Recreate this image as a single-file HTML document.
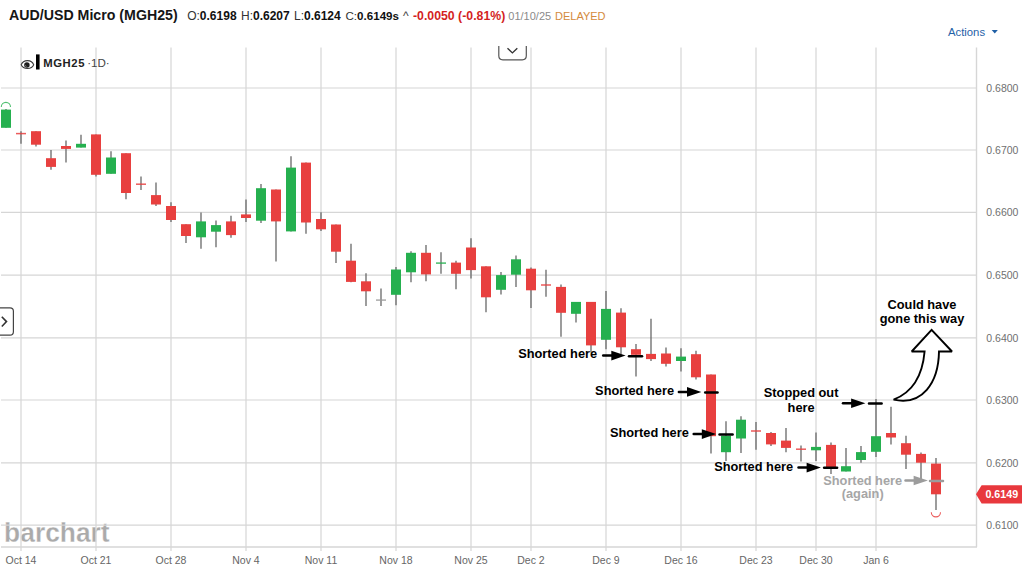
<!DOCTYPE html>
<html><head><meta charset="utf-8"><title>AUD/USD Micro (MGH25)</title>
<style>
html,body{margin:0;padding:0;background:#fff;}
body{width:1024px;height:570px;overflow:hidden;position:relative;}
svg{position:absolute;left:0;top:0;display:block;}
</style></head><body>
<svg width="1024" height="570" viewBox="0 0 1024 570">
<text x="0" y="0" transform="translate(4.1,541.9) scale(0.91,0.96)" font-family="Liberation Sans, sans-serif" font-weight="bold" font-size="29" fill="#aaaaaa" stroke="#fff" stroke-width="0.3">barchart</text>
<line x1="21" y1="47.5" x2="21" y2="551" stroke="#d6d6d6" stroke-width="1.2"/>
<line x1="96" y1="47.5" x2="96" y2="551" stroke="#d6d6d6" stroke-width="1.2"/>
<line x1="171" y1="47.5" x2="171" y2="551" stroke="#d6d6d6" stroke-width="1.2"/>
<line x1="246" y1="47.5" x2="246" y2="551" stroke="#d6d6d6" stroke-width="1.2"/>
<line x1="321" y1="47.5" x2="321" y2="551" stroke="#d6d6d6" stroke-width="1.2"/>
<line x1="396" y1="47.5" x2="396" y2="551" stroke="#d6d6d6" stroke-width="1.2"/>
<line x1="471" y1="47.5" x2="471" y2="551" stroke="#d6d6d6" stroke-width="1.2"/>
<line x1="531" y1="47.5" x2="531" y2="551" stroke="#d6d6d6" stroke-width="1.2"/>
<line x1="606" y1="47.5" x2="606" y2="551" stroke="#d6d6d6" stroke-width="1.2"/>
<line x1="681" y1="47.5" x2="681" y2="551" stroke="#d6d6d6" stroke-width="1.2"/>
<line x1="756" y1="47.5" x2="756" y2="551" stroke="#d6d6d6" stroke-width="1.2"/>
<line x1="816" y1="47.5" x2="816" y2="551" stroke="#d6d6d6" stroke-width="1.2"/>
<line x1="876" y1="47.5" x2="876" y2="551" stroke="#d6d6d6" stroke-width="1.2"/>
<line x1="1" y1="88" x2="976.5" y2="88" stroke="#d6d6d6" stroke-width="1.2"/>
<line x1="1" y1="150" x2="976.5" y2="150" stroke="#d6d6d6" stroke-width="1.2"/>
<line x1="1" y1="212.3" x2="976.5" y2="212.3" stroke="#d6d6d6" stroke-width="1.2"/>
<line x1="1" y1="275.2" x2="976.5" y2="275.2" stroke="#d6d6d6" stroke-width="1.2"/>
<line x1="1" y1="337.8" x2="976.5" y2="337.8" stroke="#d6d6d6" stroke-width="1.2"/>
<line x1="1" y1="400" x2="976.5" y2="400" stroke="#d6d6d6" stroke-width="1.2"/>
<line x1="1" y1="462.8" x2="976.5" y2="462.8" stroke="#d6d6d6" stroke-width="1.2"/>
<line x1="1" y1="525.2" x2="976.5" y2="525.2" stroke="#d6d6d6" stroke-width="1.2"/>
<line x1="976.5" y1="47.5" x2="976.5" y2="547" stroke="#d6d6d6" stroke-width="1.4"/>
<line x1="1" y1="547" x2="977" y2="547" stroke="#d6d6d6" stroke-width="1.4"/>
<line x1="6" y1="109" x2="6" y2="127.8" stroke="#686868" stroke-width="1.3"/>
<rect x="1" y="109.6" width="10" height="18.2" fill="#25b04f"/>
<line x1="21" y1="131.2" x2="21" y2="143.8" stroke="#686868" stroke-width="1.3"/>
<rect x="16" y="132.85" width="10" height="1.5" fill="#e8403f" fill-opacity="0.85"/>
<line x1="36" y1="131.2" x2="36" y2="146.6" stroke="#686868" stroke-width="1.3"/>
<rect x="31" y="131.2" width="10" height="13.5" fill="#e8403f"/>
<line x1="51" y1="150" x2="51" y2="169.7" stroke="#686868" stroke-width="1.3"/>
<rect x="46" y="158.2" width="10" height="8.7" fill="#e8403f"/>
<line x1="66" y1="140.6" x2="66" y2="162.6" stroke="#686868" stroke-width="1.3"/>
<rect x="61" y="146" width="10" height="2.9" fill="#e8403f"/>
<line x1="81" y1="134.8" x2="81" y2="147.6" stroke="#686868" stroke-width="1.3"/>
<rect x="76" y="143.8" width="10" height="3.8" fill="#25b04f"/>
<line x1="96" y1="134.4" x2="96" y2="176.6" stroke="#686868" stroke-width="1.3"/>
<rect x="91" y="134.4" width="10" height="40.4" fill="#e8403f"/>
<line x1="111" y1="151.3" x2="111" y2="173.8" stroke="#686868" stroke-width="1.3"/>
<rect x="106" y="157.5" width="10" height="16.3" fill="#25b04f"/>
<line x1="126" y1="153.2" x2="126" y2="199.2" stroke="#686868" stroke-width="1.3"/>
<rect x="121" y="153.2" width="10" height="39.8" fill="#e8403f"/>
<line x1="141" y1="176.4" x2="141" y2="190.1" stroke="#686868" stroke-width="1.3"/>
<rect x="136" y="183.45" width="10" height="1.5" fill="#e8403f" fill-opacity="0.85"/>
<line x1="156" y1="182.4" x2="156" y2="206" stroke="#686868" stroke-width="1.3"/>
<rect x="151" y="195.1" width="10" height="9.4" fill="#e8403f"/>
<line x1="171" y1="202.2" x2="171" y2="222" stroke="#686868" stroke-width="1.3"/>
<rect x="166" y="206" width="10" height="14" fill="#e8403f"/>
<line x1="186" y1="224.2" x2="186" y2="243.1" stroke="#686868" stroke-width="1.3"/>
<rect x="181" y="224.2" width="10" height="11.8" fill="#e8403f"/>
<line x1="201" y1="212.6" x2="201" y2="248.8" stroke="#686868" stroke-width="1.3"/>
<rect x="196" y="221.4" width="10" height="15.9" fill="#25b04f"/>
<line x1="216" y1="220.6" x2="216" y2="247.3" stroke="#686868" stroke-width="1.3"/>
<rect x="211" y="225.1" width="10" height="6.6" fill="#25b04f"/>
<line x1="231" y1="215.7" x2="231" y2="237.8" stroke="#686868" stroke-width="1.3"/>
<rect x="226" y="221.4" width="10" height="13.7" fill="#e8403f"/>
<line x1="246" y1="199.4" x2="246" y2="222" stroke="#686868" stroke-width="1.3"/>
<rect x="241" y="214.4" width="10" height="3.6" fill="#e8403f"/>
<line x1="261" y1="183.9" x2="261" y2="223" stroke="#686868" stroke-width="1.3"/>
<rect x="256" y="188.2" width="10" height="32.5" fill="#25b04f"/>
<line x1="276" y1="189.5" x2="276" y2="261.4" stroke="#686868" stroke-width="1.3"/>
<rect x="271" y="189.5" width="10" height="31.9" fill="#e8403f"/>
<line x1="291" y1="156.3" x2="291" y2="231.4" stroke="#686868" stroke-width="1.3"/>
<rect x="286" y="167.6" width="10" height="63.8" fill="#25b04f"/>
<line x1="306" y1="162.6" x2="306" y2="233.7" stroke="#686868" stroke-width="1.3"/>
<rect x="301" y="162.6" width="10" height="59.9" fill="#e8403f"/>
<line x1="321" y1="212.3" x2="321" y2="231" stroke="#686868" stroke-width="1.3"/>
<rect x="316" y="219" width="10" height="10.3" fill="#e8403f"/>
<line x1="336" y1="224.5" x2="336" y2="263.1" stroke="#686868" stroke-width="1.3"/>
<rect x="331" y="224.5" width="10" height="27.2" fill="#e8403f"/>
<line x1="351" y1="243.8" x2="351" y2="282.3" stroke="#686868" stroke-width="1.3"/>
<rect x="346" y="260.7" width="10" height="21.2" fill="#e8403f"/>
<line x1="366" y1="273.3" x2="366" y2="306.1" stroke="#686868" stroke-width="1.3"/>
<rect x="361" y="281.3" width="10" height="10" fill="#e8403f"/>
<line x1="381" y1="288.5" x2="381" y2="306.1" stroke="#686868" stroke-width="1.3"/>
<rect x="376" y="299.35" width="10" height="1.5" fill="#9a9a9a" fill-opacity="0.85"/>
<line x1="396" y1="266.9" x2="396" y2="305.2" stroke="#686868" stroke-width="1.3"/>
<rect x="391" y="269.5" width="10" height="25.3" fill="#25b04f"/>
<line x1="411" y1="251.3" x2="411" y2="282.3" stroke="#686868" stroke-width="1.3"/>
<rect x="406" y="252.8" width="10" height="19.5" fill="#25b04f"/>
<line x1="426" y1="245.1" x2="426" y2="281.3" stroke="#686868" stroke-width="1.3"/>
<rect x="421" y="252.8" width="10" height="21.6" fill="#e8403f"/>
<line x1="441" y1="252.2" x2="441" y2="273.8" stroke="#686868" stroke-width="1.3"/>
<rect x="436" y="262.35" width="10" height="1.5" fill="#25b04f" fill-opacity="0.85"/>
<line x1="456" y1="260.7" x2="456" y2="289.2" stroke="#686868" stroke-width="1.3"/>
<rect x="451" y="262.6" width="10" height="11.2" fill="#e8403f"/>
<line x1="471" y1="238.2" x2="471" y2="278.5" stroke="#686868" stroke-width="1.3"/>
<rect x="466" y="247.5" width="10" height="22.6" fill="#e8403f"/>
<line x1="486" y1="266.3" x2="486" y2="312.3" stroke="#686868" stroke-width="1.3"/>
<rect x="481" y="266.3" width="10" height="31" fill="#e8403f"/>
<line x1="501" y1="271.9" x2="501" y2="294.5" stroke="#686868" stroke-width="1.3"/>
<rect x="496" y="275.1" width="10" height="14.7" fill="#25b04f"/>
<line x1="516" y1="255.6" x2="516" y2="286.9" stroke="#686868" stroke-width="1.3"/>
<rect x="511" y="259.3" width="10" height="15.4" fill="#25b04f"/>
<line x1="531" y1="267.6" x2="531" y2="307.9" stroke="#686868" stroke-width="1.3"/>
<rect x="526" y="268.7" width="10" height="21.6" fill="#e8403f"/>
<line x1="546" y1="269.7" x2="546" y2="296.7" stroke="#686868" stroke-width="1.3"/>
<rect x="541" y="284.25" width="10" height="1.5" fill="#e8403f" fill-opacity="0.85"/>
<line x1="561" y1="284.5" x2="561" y2="336.7" stroke="#686868" stroke-width="1.3"/>
<rect x="556" y="286.9" width="10" height="25.9" fill="#e8403f"/>
<line x1="576" y1="301.9" x2="576" y2="322.6" stroke="#686868" stroke-width="1.3"/>
<rect x="571" y="301.9" width="10" height="11.9" fill="#25b04f"/>
<line x1="591" y1="301.9" x2="591" y2="352.6" stroke="#686868" stroke-width="1.3"/>
<rect x="586" y="301.9" width="10" height="43.5" fill="#e8403f"/>
<line x1="606" y1="291" x2="606" y2="349.2" stroke="#686868" stroke-width="1.3"/>
<rect x="601" y="308.9" width="10" height="30.9" fill="#25b04f"/>
<line x1="621" y1="308.3" x2="621" y2="354.4" stroke="#686868" stroke-width="1.3"/>
<rect x="616" y="312.6" width="10" height="34.7" fill="#e8403f"/>
<line x1="636" y1="344.1" x2="636" y2="376.6" stroke="#686868" stroke-width="1.3"/>
<rect x="631" y="349.2" width="10" height="5.6" fill="#e8403f"/>
<line x1="651" y1="318.8" x2="651" y2="361" stroke="#686868" stroke-width="1.3"/>
<rect x="646" y="353.9" width="10" height="5.2" fill="#e8403f"/>
<line x1="666" y1="347.5" x2="666" y2="366.6" stroke="#686868" stroke-width="1.3"/>
<rect x="661" y="353.5" width="10" height="10.3" fill="#e8403f"/>
<line x1="681" y1="348.3" x2="681" y2="371.5" stroke="#686868" stroke-width="1.3"/>
<rect x="676" y="356.6" width="10" height="4.4" fill="#25b04f"/>
<line x1="696" y1="350.7" x2="696" y2="379.6" stroke="#686868" stroke-width="1.3"/>
<rect x="691" y="354.2" width="10" height="23.1" fill="#e8403f"/>
<line x1="711" y1="374.5" x2="711" y2="453.5" stroke="#686868" stroke-width="1.3"/>
<rect x="706" y="374.5" width="10" height="61.7" fill="#e8403f"/>
<line x1="726" y1="421.2" x2="726" y2="461" stroke="#686868" stroke-width="1.3"/>
<rect x="721" y="435.7" width="10" height="16.5" fill="#25b04f"/>
<line x1="741" y1="416.2" x2="741" y2="453.1" stroke="#686868" stroke-width="1.3"/>
<rect x="736" y="419.7" width="10" height="18.8" fill="#25b04f"/>
<line x1="756" y1="422.1" x2="756" y2="449.7" stroke="#686868" stroke-width="1.3"/>
<rect x="751" y="430.25" width="10" height="1.5" fill="#e8403f" fill-opacity="0.85"/>
<line x1="771" y1="431.9" x2="771" y2="446" stroke="#686868" stroke-width="1.3"/>
<rect x="766" y="433" width="10" height="11.4" fill="#e8403f"/>
<line x1="786" y1="428" x2="786" y2="452.2" stroke="#686868" stroke-width="1.3"/>
<rect x="781" y="440.6" width="10" height="7.3" fill="#e8403f"/>
<line x1="801" y1="445.5" x2="801" y2="461.6" stroke="#686868" stroke-width="1.3"/>
<rect x="796" y="448.45" width="10" height="1.5" fill="#e8403f" fill-opacity="0.85"/>
<line x1="816" y1="432.5" x2="816" y2="461" stroke="#686868" stroke-width="1.3"/>
<rect x="811" y="446.9" width="10" height="3.4" fill="#25b04f"/>
<line x1="831" y1="442.5" x2="831" y2="474.1" stroke="#686868" stroke-width="1.3"/>
<rect x="826" y="444.9" width="10" height="22.8" fill="#e8403f"/>
<line x1="846" y1="448.1" x2="846" y2="471.5" stroke="#686868" stroke-width="1.3"/>
<rect x="841" y="466.2" width="10" height="5.3" fill="#25b04f"/>
<line x1="861" y1="446" x2="861" y2="462.7" stroke="#686868" stroke-width="1.3"/>
<rect x="856" y="452.1" width="10" height="7.9" fill="#25b04f"/>
<line x1="876" y1="399" x2="876" y2="457" stroke="#686868" stroke-width="1.3"/>
<rect x="871" y="436.2" width="10" height="15.6" fill="#25b04f"/>
<line x1="891" y1="406.8" x2="891" y2="444.4" stroke="#686868" stroke-width="1.3"/>
<rect x="886" y="433" width="10" height="4.5" fill="#e8403f"/>
<line x1="906" y1="435.8" x2="906" y2="469" stroke="#686868" stroke-width="1.3"/>
<rect x="901" y="443.2" width="10" height="11.5" fill="#e8403f"/>
<line x1="921" y1="452.6" x2="921" y2="479.6" stroke="#686868" stroke-width="1.3"/>
<rect x="916" y="453.9" width="10" height="8.8" fill="#e8403f"/>
<line x1="936" y1="457.9" x2="936" y2="509.9" stroke="#686868" stroke-width="1.3"/>
<rect x="931" y="463.6" width="10" height="30.7" fill="#e8403f"/>
<path d="M1.3,107 A4.6,4.6 0 0 1 10.5,107" fill="none" stroke="#25b04f" stroke-width="1.1" stroke-opacity="0.8"/>
<path d="M931.3,512.3 A4.6,4.6 0 0 0 940.5,512.3" fill="none" stroke="#e8403f" stroke-width="1.1" stroke-opacity="0.85"/>
<text x="518.2" y="358.2" font-family="Liberation Sans, Arial, sans-serif" font-weight="bold" font-size="12.8" fill="#000">Shorted here</text>
<line x1="603.2" y1="355.6" x2="612.3" y2="355.6" stroke="#000" stroke-width="2.5" stroke-linecap="round"/><path d="M611.3,350.8 L625.6,355.6 L611.3,360.4 Z" fill="#000"/>
<line x1="629" y1="356.2" x2="642" y2="356.2" stroke="#000" stroke-width="2.5" stroke-linecap="round"/>
<text x="595.1" y="394.5" font-family="Liberation Sans, Arial, sans-serif" font-weight="bold" font-size="12.8" fill="#000">Shorted here</text>
<line x1="678.9" y1="391.9" x2="688" y2="391.9" stroke="#000" stroke-width="2.5" stroke-linecap="round"/><path d="M687,387.1 L701.3,391.9 L687,396.7 Z" fill="#000"/>
<line x1="705.2" y1="392.4" x2="717.5" y2="392.4" stroke="#000" stroke-width="2.5" stroke-linecap="round"/>
<text x="609.9" y="436.8" font-family="Liberation Sans, Arial, sans-serif" font-weight="bold" font-size="12.8" fill="#000">Shorted here</text>
<line x1="693.7" y1="434.1" x2="702.8" y2="434.1" stroke="#000" stroke-width="2.5" stroke-linecap="round"/><path d="M701.8,429.3 L716.1,434.1 L701.8,438.9 Z" fill="#000"/>
<line x1="719.5" y1="434.5" x2="732.6" y2="434.5" stroke="#000" stroke-width="2.5" stroke-linecap="round"/>
<text x="714.2" y="470.8" font-family="Liberation Sans, Arial, sans-serif" font-weight="bold" font-size="12.8" fill="#000">Shorted here</text>
<line x1="798.5" y1="467.6" x2="807.6" y2="467.6" stroke="#000" stroke-width="2.5" stroke-linecap="round"/><path d="M806.6,462.8 L820.9,467.6 L806.6,472.4 Z" fill="#000"/>
<line x1="824.1" y1="467.7" x2="837.1" y2="467.7" stroke="#000" stroke-width="2.5" stroke-linecap="round"/>
<text x="801.1" y="397.1" font-family="Liberation Sans, Arial, sans-serif" font-weight="bold" font-size="12.8" fill="#000" text-anchor="middle">Stopped out</text>
<text x="801.1" y="411.5" font-family="Liberation Sans, Arial, sans-serif" font-weight="bold" font-size="12.8" fill="#000" text-anchor="middle">here</text>
<line x1="843" y1="403.2" x2="852.1" y2="403.2" stroke="#000" stroke-width="2.5" stroke-linecap="round"/><path d="M851.1,398.4 L865.4,403.2 L851.1,408 Z" fill="#000"/>
<line x1="869" y1="403.4" x2="881.6" y2="403.4" stroke="#000" stroke-width="2.5" stroke-linecap="round"/>
<text x="922" y="308.8" font-family="Liberation Sans, Arial, sans-serif" font-weight="bold" font-size="12.8" fill="#000" text-anchor="middle">Could have</text>
<text x="922" y="322.6" font-family="Liberation Sans, Arial, sans-serif" font-weight="bold" font-size="12.8" fill="#000" text-anchor="middle">gone this way</text>
<text x="862.7" y="484.6" font-family="Liberation Sans, Arial, sans-serif" font-weight="bold" font-size="12.8" fill="#a6a6a6" text-anchor="middle">Shorted here</text>
<text x="862.7" y="497.6" font-family="Liberation Sans, Arial, sans-serif" font-weight="bold" font-size="12.8" fill="#a6a6a6" text-anchor="middle">(again)</text>
<line x1="905.5" y1="480.5" x2="914.6" y2="480.5" stroke="#9c9c9c" stroke-width="2.5" stroke-linecap="round"/><path d="M913.6,475.7 L927.9,480.5 L913.6,485.3 Z" fill="#9c9c9c"/>
<line x1="930" y1="481" x2="943" y2="481" stroke="#9c9c9c" stroke-width="2.5" stroke-linecap="round"/>
<path d="M893.6,399.6 C911,393 922.2,379 924.6,351.5 L911.7,351.5 L931.6,329.9 L952,351.5 L939,351.5 C938.5,383 922,406 893.6,399.6 Z" fill="#fff" stroke="#000" stroke-width="1.9" stroke-linejoin="miter" stroke-miterlimit="2.2"/>
<text x="986.3" y="91.8" font-family="Liberation Sans, Arial, sans-serif" font-size="10.5" fill="#707070">0.6800</text>
<text x="986.3" y="153.8" font-family="Liberation Sans, Arial, sans-serif" font-size="10.5" fill="#707070">0.6700</text>
<text x="986.3" y="216.1" font-family="Liberation Sans, Arial, sans-serif" font-size="10.5" fill="#707070">0.6600</text>
<text x="986.3" y="279" font-family="Liberation Sans, Arial, sans-serif" font-size="10.5" fill="#707070">0.6500</text>
<text x="986.3" y="341.6" font-family="Liberation Sans, Arial, sans-serif" font-size="10.5" fill="#707070">0.6400</text>
<text x="986.3" y="403.8" font-family="Liberation Sans, Arial, sans-serif" font-size="10.5" fill="#707070">0.6300</text>
<text x="986.3" y="466.6" font-family="Liberation Sans, Arial, sans-serif" font-size="10.5" fill="#707070">0.6200</text>
<text x="986.3" y="529" font-family="Liberation Sans, Arial, sans-serif" font-size="10.5" fill="#707070">0.6100</text>
<path d="M976,494.3 L981.6,485.2 L1022,485.2 L1022,503.4 L981.6,503.4 Z" fill="#e8383d"/>
<text x="985.4" y="497.8" font-family="Liberation Sans, Arial, sans-serif" font-weight="bold" font-size="10.7" fill="#fff">0.6149</text>
<text x="21" y="563.8" font-family="Liberation Sans, Arial, sans-serif" font-size="10.5" fill="#666" text-anchor="middle">Oct 14</text>
<text x="96" y="563.8" font-family="Liberation Sans, Arial, sans-serif" font-size="10.5" fill="#666" text-anchor="middle">Oct 21</text>
<text x="171" y="563.8" font-family="Liberation Sans, Arial, sans-serif" font-size="10.5" fill="#666" text-anchor="middle">Oct 28</text>
<text x="246" y="563.8" font-family="Liberation Sans, Arial, sans-serif" font-size="10.5" fill="#666" text-anchor="middle">Nov 4</text>
<text x="321" y="563.8" font-family="Liberation Sans, Arial, sans-serif" font-size="10.5" fill="#666" text-anchor="middle">Nov 11</text>
<text x="396" y="563.8" font-family="Liberation Sans, Arial, sans-serif" font-size="10.5" fill="#666" text-anchor="middle">Nov 18</text>
<text x="471" y="563.8" font-family="Liberation Sans, Arial, sans-serif" font-size="10.5" fill="#666" text-anchor="middle">Nov 25</text>
<text x="531" y="563.8" font-family="Liberation Sans, Arial, sans-serif" font-size="10.5" fill="#666" text-anchor="middle">Dec 2</text>
<text x="606" y="563.8" font-family="Liberation Sans, Arial, sans-serif" font-size="10.5" fill="#666" text-anchor="middle">Dec 9</text>
<text x="681" y="563.8" font-family="Liberation Sans, Arial, sans-serif" font-size="10.5" fill="#666" text-anchor="middle">Dec 16</text>
<text x="756" y="563.8" font-family="Liberation Sans, Arial, sans-serif" font-size="10.5" fill="#666" text-anchor="middle">Dec 23</text>
<text x="816" y="563.8" font-family="Liberation Sans, Arial, sans-serif" font-size="10.5" fill="#666" text-anchor="middle">Dec 30</text>
<text x="876" y="563.8" font-family="Liberation Sans, Arial, sans-serif" font-size="10.5" fill="#666" text-anchor="middle">Jan 6</text>
<text x="9" y="20" font-family="Liberation Sans, Arial, sans-serif" font-weight="bold" font-size="14.2" fill="#161616">AUD/USD Micro (MGH25)</text>
<text x="187.2" y="20" font-family="Liberation Sans, Arial, sans-serif" font-size="12" fill="#333">O:<tspan font-weight="bold" fill="#111">0.6198</tspan></text>
<text x="241.0" y="20" font-family="Liberation Sans, Arial, sans-serif" font-size="12" fill="#333">H:<tspan font-weight="bold" fill="#111">0.6207</tspan></text>
<text x="294.0" y="20" font-family="Liberation Sans, Arial, sans-serif" font-size="12" fill="#333">L:<tspan font-weight="bold" fill="#111">0.6124</tspan></text>
<text x="345.5" y="20" font-family="Liberation Sans, Arial, sans-serif" font-size="11.6" fill="#333">C:<tspan font-weight="bold" fill="#111">0.6149s</tspan></text>
<text x="403" y="20" font-family="Liberation Sans, Arial, sans-serif" font-size="12" fill="#444">^</text>
<text x="413" y="20" font-family="Liberation Sans, Arial, sans-serif" font-size="12.3" font-weight="bold" fill="#d41f1f">-0.0050 (-0.81%)</text>
<text x="508.3" y="20" font-family="Liberation Sans, Arial, sans-serif" font-size="11" fill="#8a8a8a">01/10/25</text>
<text x="555" y="20" font-family="Liberation Sans, Arial, sans-serif" font-size="11" fill="#d48a3c">DELAYED</text>
<text x="948" y="35.5" font-family="Liberation Sans, Arial, sans-serif" font-size="11.3" fill="#1f62a8">Actions</text>
<path d="M991.7,30 L997.8,30 L994.75,33.4 Z" fill="#1f5fa6"/>
<path d="M498.8,46 L498.8,55.8 Q498.8,59.8 502.8,59.8 L522.3,59.8 Q526.3,59.8 526.3,55.8 L526.3,46" fill="#fff" stroke="#555" stroke-width="1.2"/>
<path d="M507.5,48.3 L512.4,52.9 L517.3,48.3" fill="none" stroke="#333" stroke-width="1.4"/>
<path d="M-2,307.8 L10,307.8 Q13.4,307.8 13.4,311.2 L13.4,331.8 Q13.4,335.2 10,335.2 L-2,335.2" fill="#fff" stroke="#444" stroke-width="1.2"/>
<path d="M1.8,316.8 L6.5,321.6 L1.8,326.5" fill="none" stroke="#333" stroke-width="1.6"/>
<path d="M21.2,64.8 C23.2,59.2 31.7,59.2 33.7,64.8 C31.7,69.8 23.2,69.8 21.2,64.8 Z" fill="#fff" stroke="#3a3a3a" stroke-width="1.05"/>
<circle cx="26.9" cy="65.1" r="2.75" fill="#1e1e1e"/>
<path d="M25.2,64.9 L26.5,67.1" stroke="#888" stroke-width="0.7"/>
<rect x="36" y="54.4" width="3.6" height="15.1" fill="#000"/>
<text x="43.2" y="66.6" font-family="Liberation Sans, Arial, sans-serif" font-weight="bold" font-size="11.3" letter-spacing="0.6" fill="#222">MGH25</text>
<text x="87.2" y="66.6" font-family="Liberation Sans, Arial, sans-serif" font-size="11.6" fill="#444">·1D·</text>
</svg>
</body></html>
